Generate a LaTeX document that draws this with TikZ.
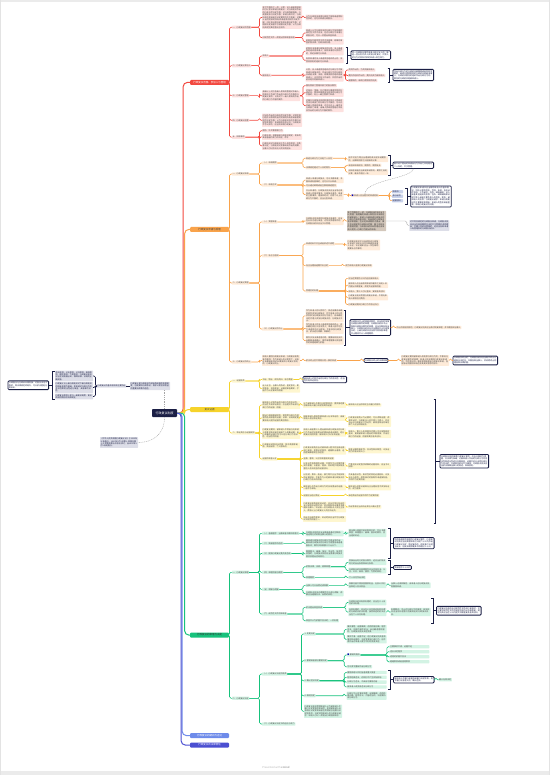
\documentclass[tikz,border=0pt]{standalone}
\usepackage{fontspec}
\newfontfamily\cjk{Noto Sans CJK SC}
\usetikzlibrary{calc}
\XeTeXlinebreaklocale "zh"
\XeTeXlinebreakskip=0pt plus 0.2pt

\definecolor{redM}{HTML}{F2483F}\definecolor{redL}{HTML}{FDE1DF}
\definecolor{oraM}{HTML}{F9A34B}\definecolor{oraL}{HTML}{FEEBD9}
\definecolor{yelM}{HTML}{F6D32B}\definecolor{yelL}{HTML}{FEF6CF}
\definecolor{grnM}{HTML}{16C27C}\definecolor{grnL}{HTML}{D3F3E4}
\definecolor{bluM}{HTML}{6E8BEA}\definecolor{purM}{HTML}{4B4FD1}
\definecolor{navy}{HTML}{1B1F45}\definecolor{grayL}{HTML}{DDDEE8}
\definecolor{tanC}{HTML}{D3C7BB}\definecolor{steelC}{HTML}{C9D2EB}

\newcommand{\tf}{\cjk\fontsize{2pt}{2.45pt}\selectfont}
\newcommand{\mf}{\cjk\fontsize{2.5pt}{3pt}\selectfont}
\newcommand{\cf}{\cjk\fontsize{3pt}{3.6pt}\selectfont}

% parent -> children, elbow just before the children
\newcommand{\tree}[3]{\foreach \ch in {#3}{\draw[#1] (#2.east) -- ($(#2.east -| \ch.west)+(-2.5,0)$) |- (\ch.west);}}
% summary bracket: x, top, bottom, summary node
\newcommand{\summ}[4]{%
  \draw[brk] (#1-1.8,#2) -- (#1,#2) -- (#1,#3) -- (#1-1.8,#3);
  \coordinate (#4-m) at (#1,{(#2+#3)/2});
  \draw[brk] (#4-m) -- (#4.west);}

\tikzset{
  tb/.style={font=\tf, inner sep=0.7pt, outer sep=0pt, anchor=west, align=left, rounded corners=0.5pt, text=black!72},
  rb/.style={tb, fill=redL}, ob/.style={tb, fill=oraL}, yb/.style={tb, fill=yelL}, gb/.style={tb, fill=grnL},
  kb/.style={tb, fill=grayL, text=navy}, tanb/.style={tb, fill=tanC, text=black!80},
  stb/.style={tb, fill=steelC, text=navy, text width=9.6pt},
  sb/.style={tb, fill=white, draw=navy, line width=0.8pt, rounded corners=1pt, text=navy, inner sep=1pt},
  mn/.style={font=\mf, inner sep=1pt, outer sep=0pt, anchor=west, minimum width=39pt, minimum height=5pt, rounded corners=1pt},
  n33/.style={text width=31.6pt}, n38/.style={text width=36.6pt}, n39/.style={text width=37.6pt},
  n40/.style={text width=38.6pt}, n43/.style={text width=41.6pt}, n44/.style={text width=42.6pt}, n48/.style={text width=46.6pt},
  rl/.style={draw=redM, line width=0.6pt, rounded corners=1.5pt},
  ol/.style={draw=oraM, line width=0.6pt, rounded corners=1.5pt},
  yl/.style={draw=yelM, line width=0.6pt, rounded corners=1.5pt},
  gl/.style={draw=grnM, line width=0.6pt, rounded corners=1.5pt},
  nl/.style={draw=navy, line width=0.6pt, rounded corners=1.5pt},
  kl/.style={draw=gray!70, line width=0.4pt, rounded corners=1.5pt},
  brk/.style={draw=navy, line width=0.8pt},
  rel/.style={draw=gray!70, line width=0.4pt, dash pattern=on 1pt off 0.8pt},
  mline/.style={line width=1pt, rounded corners=4pt}
}

\begin{document}
\begin{tikzpicture}[x=1pt,y=-1pt]
\useasboundingbox (0,0) rectangle (550,775);
\fill[gray!16] (0,0) rectangle (550,1.6);
\fill[gray!16] (0,771) rectangle (550,775);
\draw[gray!22, line width=1pt] (0.5,0) -- (0.5,775);
\draw[gray!22, line width=1pt] (549.5,0) -- (549.5,775);

\node[fill=navy, text=white, font=\cf, minimum width=25pt, minimum height=8pt, inner sep=1pt, rounded corners=0.8pt] (cen) at (164.5,413) {行政复议制度};

% ---------- red
\node[mn, fill=redM, text=white] (R) at (190,82.5) {行政复议范围、参加人与管辖};
\node[rb] (r1) at (232,27.3) {一、行政复议的范围};
\node[rb] (r2) at (232,65.7) {二、行政复议参加人};
\node[rb] (r3) at (232,95.7) {三、行政复议管辖};
\node[rb] (r4) at (232,120.3) {四、行政复议前置};
\node[rb] (r5) at (232,137.2) {五、排除事项};
\node[rb,n40] (r11) at (262,17.5) {有下列情形之一的，公民、法人或者其他组织可以依法申请行政复议：对行政机关作出的行政处罚决定不服；对行政强制措施、行政强制执行决定不服；申请行政许可，行政机关拒绝或者在法定期限内不予答复；对确认自然资源的所有权或者使用权的决定不服；对征收征用决定及其补偿决定不服；对赔偿决定或者不予赔偿决定不服；认为行政机关侵犯其经营自主权的。};
\node[rb,n38] (r111) at (305.5,17.5) {认为行政机关滥用行政权力排除或者限制竞争的，也可以申请行政复议。};
\node[rb] (r12) at (262,37.5) {对规范性文件一并提出附带审查申请};
\node[rb,n38] (r121) at (305.5,33) {申请人认为行政机关的行政行为所依据的规范性文件不合法，在对行政行为申请行政复议时，可以一并提出审查申请。};
\node[rb,n38] (r122) at (305.5,41.8) {前款所列规范性文件不含规章，规章的审查依照法律、行政法规办理。};
\node[rb] (r21) at (262,56) {申请人};
\node[rb,n38] (r211) at (305.5,51.2) {依照本法申请行政复议的公民、法人或者其他组织是申请人；有权申请的公民死亡的，其近亲属可以申请。};
\node[rb,n38] (r212) at (305.5,60.3) {有权申请的法人或者其他组织终止的，承受其权利的组织可以申请。};
\node[sb,n39] (s1) at (351,55.15) {同一行政复议案件申请人超过五人的，推选一至五名代表人参加行政复议，代表人的行为对其所代表的申请人发生效力。};
\node[rb] (r22) at (262,75.3) {被申请人};
\node[rb,n38] (r221) at (305.5,75) {公民、法人或者其他组织对行政行为不服申请行政复议的，作出行政行为的行政机关或者法律、法规、规章授权的组织是被申请人；以共同名义作出的，共同作出的机关是共同被申请人。};
\node[rb] (r2211) at (348,70) {共同作出的，为共同被申请人};
\node[rb] (r2212) at (348,75.5) {委托的组织作出的，委托机关为被申请人};
\node[rb] (r2213) at (348,80.5) {被撤销的，继续行使职权的机关};
\node[sb,n40] (s2) at (393,75) {作出行政行为的行政机关被撤销或者职权变更的，继续行使其职权的行政机关是被申请人；行政机关委托的组织作出行政行为的，委托的行政机关是被申请人。};
\node[rb,n38] (r31) at (262,95.8) {县级以上地方各级人民政府管辖对本级人民政府工作部门作出的行政行为不服的行政复议案件，以及对下一级人民政府作出的行政行为不服的案件。};
\node[rb] (r311) at (305.5,85.7) {国务院部门管辖本部门的复议案件};
\node[rb,n38] (r312) at (305.5,92.8) {对海关、金融、外汇等实行垂直领导的行政机关、税务和国家安全机关的行政行为不服的，向上一级主管部门申请。};
\node[rb,n38] (r313) at (305.5,105.5) {对履行行政复议机构职责的地方人民政府司法行政部门的行政行为不服的，可以向本级人民政府申请，也可以向上一级司法行政部门申请；省级人民政府管辖对本机关作出的行政行为不服的案件。};
\node[rb,n40] (r41) at (262,120.3) {对当场作出的行政处罚决定不服；对侵犯其已经依法取得的自然资源的所有权或者使用权的决定不服；认为行政机关存在不履行法定职责情形；申请政府信息公开，行政机关不予公开的，应当先申请行政复议。};
\node[rb] (r51) at (262,130.8) {国防、外交等国家行为};
\node[rb,n40] (r52) at (262,136.9) {行政法规、规章或者行政机关制定、发布的具有普遍约束力的决定、命令};
\node[rb,n40] (r53) at (262,145.8) {行政机关对行政机关工作人员的奖惩、任免等决定；行政机关对民事纠纷作出的调解，当事人可以依法向人民法院起诉。};
\tree{rl}{R}{r1,r2,r3,r4,r5}
\tree{rl}{r1}{r11,r12}
\tree{rl}{r11}{r111}
\tree{rl}{r12}{r121,r122}
\tree{rl}{r2}{r21,r22}
\tree{rl}{r21}{r211,r212}
\tree{rl}{r22}{r221}
\tree{rl}{r221}{r2211,r2212,r2213}
\tree{rl}{r3}{r31}
\tree{rl}{r31}{r311,r312,r313}
\tree{rl}{r4}{r41}
\tree{rl}{r5}{r51,r52,r53}
\summ{347.5}{47}{63.3}{s1}
\summ{389.5}{68}{82}{s2}

% ---------- orange
\node[mn, fill=oraM, text=black!75] (O) at (190,229.5) {行政复议申请与受理};
\node[ob] (o1) at (232,174) {一、行政复议申请};
\node[ob] (o2) at (232,283) {二、行政复议受理};
\node[ob] (o3) at (232,362) {三、行政复议的终止};
\node[ob] (o11) at (262,163) {（一）申请期限};
\node[ob] (o111) at (305.5,158.3) {知道行政行为之日起六十日内};
\node[ob] (o112) at (305.5,167.7) {法律规定超过六十日的除外};
\node[ob,n40] (o1111) at (348,159.2) {因不可抗力等正当理由耽误法定申请期限的，自障碍消除之日起继续计算。};
\node[ob] (o1121) at (348,165.3) {未告知申请权利、期限的，期限延长};
\node[ob,n40] (o1122) at (348,172.2) {自知道或者应当知道申请权利、期限之日起计算，最长不超过一年。};
\node[sb,n40] (s3) at (393,165.25) {因不动产提出的申请自行为作出之日起超过二十年的，不予受理。};
\node[ob] (o12) at (262,185) {（二）申请方式};
\node[ob,n38] (o121) at (305.5,180.2) {申请人申请行政复议，可以书面申请；书面申请有困难的，也可以口头申请。};
\node[ob] (o122) at (305.5,185.8) {可以通过邮寄或者互联网渠道提交};
\node[ob,n38] (o123) at (305.5,194.6) {口头申请的，行政复议机关应当当场记录申请人的基本情况、行政复议请求、申请的主要事实、理由和时间；对两个以上行政行为不服的，应当分别申请。};
\node[ob] (o1231) at (351,195.5) {{\color{blue!70!black}■} 申请人应当提交的申请材料};
\node[stb] (o12311) at (392,191.7) {申请书};
\node[stb] (o12312) at (392,196.2) {身份证明};
\node[stb] (o12313) at (392,200.7) {证据材料};
\node[sb,n40] (s4) at (410.7,196.5) {行政复议申请书应当载明申请人的基本情况，包括公民的姓名、性别、年龄、身份证件号码、工作单位、住所、邮政编码；法人或者其他组织的名称、住所、邮政编码和法定代表人或者主要负责人的姓名、职务；被申请人的名称；行政复议请求、申请行政复议的主要事实和理由；申请人的签名或者盖章；申请行政复议的日期。};
\node[ob] (o21) at (262,222) {（一）受理审查};
\node[ob,n38] (o211) at (305.5,221) {行政复议机关收到行政复议申请后，应当在五日内进行审查，对符合受理条件的，行政复议机关应当予以受理。};
\node[tanb,n39] (t1) at (347,221) {有下列情形之一的，行政复议机关应当予以受理：有明确的申请人和符合本法规定的被申请人；申请人与被申请行政复议的行政行为有利害关系；有具体的行政复议请求和理由；在法定申请期限内提出；属于本法规定的行政复议范围；属于本机关的管辖范围；行政复议机关未受理过该申请人就同一行政行为提出的申请。};
\node[kb,n40] (k7) at (409.3,225.5) {对不符合规定的行政复议申请，行政复议机关应当在审查期限内决定不予受理并说明理由；不属于本机关管辖的，还应当告知申请人有管辖权的行政复议机关。};
\node[ob] (o22) at (262,255.7) {（二）补正与告知};
\node[ob] (o221) at (305.5,244) {申请材料不齐全或者表述不清楚};
\node[ob,n33] (o2211) at (347,245) {行政复议机关可以自收到该行政复议申请之日起五日内书面通知申请人补正，补正通知应当一次性载明需要补正的事项。};
\node[ob] (o222) at (305.5,265.7) {无正当理由逾期不补正的};
\node[ob] (o2221) at (345,265.7) {视为申请人放弃行政复议申请};
\node[ob] (o223) at (305.5,291) {受理后的处理};
\node[ob] (o2231) at (348,278.3) {应当在受理后七日内送达被申请人};
\node[ob,n40] (o2232) at (348,285.2) {被申请人应当自收到申请书副本之日起十日内提出书面答复，并提交证据和依据。};
\node[ob] (o2233) at (348,291.5) {申请人、第三人可以查阅、复制有关材料};
\node[ob,n40] (o2234) at (348,297.4) {行政复议机关受理行政复议申请，不得向申请人收取任何费用。};
\node[ob] (o2235) at (348,304.5) {行政复议期间行政行为不停止执行};
\node[ob] (o23) at (262,329) {（三）行政复议的中止};
\node[ob,n38] (o231) at (305.5,315.8) {作为申请人的公民死亡，其近亲属尚未确定是否参加行政复议；作为申请人的公民丧失参加行政复议的行为能力，尚未确定法定代理人参加行政复议的，行政复议中止。};
\node[ob,n38] (o232) at (305.5,328.5) {作为申请人的法人或者其他组织终止，尚未确定权利义务承受人；申请人因不可抗力或者其他正当理由，不能参加行政复议；依法进行调解、和解的。};
\node[ob,n38] (o233) at (305.5,340.5) {案件涉及法律适用问题，需要有权机关作出解释或者确认；案件审理需要以其他案件的审理结果为依据。};
\node[sb,n40] (s5) at (350,327.5) {行政复议中止的原因消除后，应当及时恢复行政复议案件的审理；行政复议机关中止、恢复行政复议案件的审理，应当书面告知当事人。行政复议机关无正当理由中止行政复议的，上级行政机关应当责令其恢复审理，中止期间不计入审理期限。};
\node[ob] (o2331) at (396,327.5) {中止的原因消除后，行政复议机关应当及时恢复审理，并书面告知当事人};
\node[ob,n38] (o31) at (262,360.5) {申请人撤回行政复议申请，行政复议机构准予撤回；作为申请人的公民死亡，没有近亲属或者其近亲属放弃行政复议权利的，行政复议终止。};
\node[ob] (o311) at (305.5,360.5) {依法终止后不得再以同一事实申请};
\node[sb] (s6) at (364,360.5) {行政复议终止的法律效果};
\node[ob,n48] (o3111) at (401,360.5) {行政复议期间被申请人改变原行政行为的，不影响行政复议案件的审理；申请人依法撤回行政复议申请的，不得再以同一事实和理由提出行政复议申请，但能够证明撤回申请违背其真实意愿的除外。};
\node[sb,n44] (s7) at (453,360.5) {行政复议终止的，行政复议机关应当制作终止行政复议决定书，书面告知当事人，并说明终止的理由和法律依据。};
\tree{ol}{O}{o1,o2,o3}
\tree{ol}{o1}{o11,o12}
\tree{ol}{o11}{o111,o112}
\tree{ol}{o111}{o1111}
\tree{ol}{o112}{o1121,o1122}
\tree{ol}{o12}{o121,o122,o123}
\tree{ol}{o123}{o1231}
\tree{ol}{o1231}{o12311,o12312,o12313}
\tree{ol}{o2}{o21,o22,o23}
\tree{ol}{o21}{o211}
\tree{ol}{o211}{t1}
\tree{kl}{t1}{k7}
\tree{ol}{o22}{o221,o222,o223}
\tree{ol}{o221}{o2211}
\tree{ol}{o222}{o2221}
\tree{ol}{o223}{o2231,o2232,o2233,o2234,o2235}
\tree{ol}{o23}{o231,o232,o233}
\tree{ol}{s5}{o2331}
\tree{ol}{o3}{o31}
\tree{ol}{o31}{o311}
\tree{ol}{o311}{s6}
\tree{ol}{s6}{o3111}
\tree{ol}{o3111}{s7}
\summ{390}{155.5}{175}{s3}
\summ{407}{188.5}{204.5}{s4}
\summ{345.5}{310}{345}{s5}
\draw[rel] (o1231.north) .. controls +(0,-14) and +(0,10) .. (s3.south);

% ---------- yellow
\node[mn, fill=yelM, text=black!75] (Y) at (190,409.5) {复议证据};
\node[yb] (y1) at (232,381) {一、证据种类};
\node[yb] (y2) at (232,433) {二、举证责任与证据规则};
\node[yb] (y11) at (262,379.5) {书证、物证、视听资料、电子数据};
\node[sb,n43] (sy1) at (303,379.5) {被申请人对其作出的行政行为的合法性、适当性负有举证责任。};
\node[yb,n38] (y12) at (262,388.6) {证人证言、当事人的陈述、鉴定意见、勘验笔录、现场笔录；证据经审查属实，才能作为认定事实的根据。};
\node[yb,n38] (y21) at (262,405) {被申请人对其作出的行政行为的合法性、适当性负有举证责任，应当提交作出该行政行为的证据、依据。};
\node[yb,n43] (y211) at (303,405) {认为被申请人不履行法定职责的，提供曾经要求被申请人履行法定职责的证据。};
\node[yb] (y2111) at (348,405) {被申请人应当依职权主动履行的除外};
\node[yb,n38] (y22) at (262,418) {提出行政赔偿请求的，提供受行政行为侵害而造成损害的证据；法律、法规规定需要申请人提供证据的其他情形。};
\node[yb,n43] (y221) at (303,418) {因被申请人原因导致申请人无法举证的，由被申请人承担举证责任。};
\node[yb,n43] (y2211) at (348,421.5) {行政复议机构认为必要时，可以调取证据；调查取证时，行政复议人员不得少于两人，并应当出示行政复议工作证件；被调查取证的单位和个人应当积极配合。};
\node[yb,n38] (y23) at (262,433.5) {行政复议期间，被申请人不得自行向申请人和其他有关单位或者个人收集证据；自行收集的证据不作为认定行政行为合法性、适当性的依据。};
\node[yb,n43] (y231) at (303,432.5) {申请人或者第三人提出被申请行政复议的行政行为作出时没有提出的理由或者证据的，经行政复议机构同意，被申请人可以补充证据。};
\node[yb,n43] (y2311) at (348,434) {申请人、第三人及其委托代理人可以按照规定查阅、复制被申请人提出的书面答复、作出行政行为的证据、依据和其他有关材料。};
\node[yb,n38] (y24) at (262,445.5) {行政复议机构应当同意，除涉及国家秘密、商业秘密、个人隐私的。};
\node[yb] (y25) at (262,459) {证据的审查认定};
\node[yb,n43] (y251) at (303,450.5) {行政复议机构应当对被申请人提交的全部证据进行审查，依照法定程序，遵循职业道德，运用逻辑推理和生活经验。};
\node[yb] (y252) at (303,458.5) {全面、客观、公正地审查核实证据};
\node[yb,n43] (y253) at (303,466) {以非法手段取得的证据，不得作为认定案件事实的根据；以偷拍、偷录、窃听等手段获取侵害他人合法权益的证据材料。};
\node[yb,n43] (y254) at (303,477.5) {以利诱、欺诈、胁迫、暴力等不正当手段获取的证据材料，不能作为认定被申请行政复议的行政行为合法的依据。};
\node[yb,n43] (y255) at (303,487.5) {被申请人在作出行政行为时没有提出的证据，一般不予采纳。};
\node[yb] (y256) at (303,495.5) {证据应当经过质证};
\node[yb,n43] (y257) at (303,507) {行政复议机构组织听证的，应当在举行听证的五日前将听证的时间、地点和拟听证事项书面通知当事人；听证由一名行政复议人员任主持人，两名以上行政复议人员任听证员。};
\node[yb,n43] (y258) at (303,519) {听证应当制作笔录，听证笔录应当作为行政复议决定的依据之一。};
\node[yb,n43] (y2511) at (348,450.5) {审查证据的真实性、合法性和关联性，以及证明力的有无和大小。};
\node[yb,n43] (y2531) at (348,466) {严重违反法定程序收集的证据材料，应当予以排除。};
\node[yb,n43] (y2541) at (348,477.5) {不具备合法性、真实性的其他证据材料，以及无法与原件、原物核对的复制件或者复制品，不得作为定案依据。};
\node[yb,n43] (y2551) at (348,487.5) {被申请人经依法通知无正当理由拒不参加听证的，视为放弃。};
\node[yb] (y2561) at (348,495.5) {未经质证的证据不得作为定案依据};
\node[yb] (y2571) at (348,507) {听证笔录应当由听证参加人确认签字};
\node[sb,n48] (s8) at (440,461.25) {行政复议机构审理行政复议案件，应当以事实为根据，以法律为准绳；对被申请人作出的行政行为的合法性和适当性进行全面审查，证据不足以证明行政行为合法的，行政复议机关不予维持；行政复议机关应当依法保障当事人的陈述、申辩权利。};
\tree{yl}{Y}{y1,y2}
\tree{yl}{y1}{y11,y12}
\tree{yl}{y11}{sy1}
\tree{yl}{y2}{y21,y22,y23,y24,y25}
\tree{yl}{y21}{y211}
\tree{yl}{y211}{y2111}
\tree{yl}{y22}{y221}
\tree{yl}{y221}{y2211}
\tree{yl}{y23}{y231}
\tree{yl}{y231}{y2311}
\tree{yl}{y25}{y251,y252,y253,y254,y255,y256,y257,y258}
\tree{yl}{y251}{y2511}
\tree{yl}{y253}{y2531}
\tree{yl}{y254}{y2541}
\tree{yl}{y255}{y2551}
\tree{yl}{y256}{y2561}
\tree{yl}{y257}{y2571}
\summ{435.5}{399}{523.5}{s8}

% ---------- green
\node[mn, fill=grnM, text=black!80] (G) at (190,635) {行政复议的审理与决定};
\node[gb] (g1) at (232,572.3) {一、行政复议审理};
\node[gb] (g2) at (232,698.3) {二、行政复议决定};
\node[gb] (g11) at (262,533.3) {（一）普通程序：当面或者书面听取意见};
\node[gb,n38] (g111) at (305.5,533.5) {行政复议机构应当当面或者通过互联网、电话等方式听取当事人的意见。};
\node[gb,n38] (g1111) at (348.3,533) {因当事人原因不能听取意见的，可以书面审查；审理重大、疑难、复杂的案件，应当组织听证。};
\node[gb] (g12) at (262,543.3) {（二）简易程序的适用};
\node[gb,n38] (g121) at (305.5,543.3) {被申请行政复议的行政行为是当场作出；被申请行政复议的行政行为是警告或者通报批评；案件涉及款额三千元以下。};
\node[gb] (g13) at (262,553.5) {（三）提请行政复议委员会咨询};
\node[gb,n38] (g131) at (305.5,553.8) {案情重大、疑难、复杂；专业性、技术性较强的，行政复议机构应当提请行政复议委员会提出咨询意见。};
\node[gb] (g14) at (262,572.3) {（四）审理依据与期限};
\node[gb] (g141) at (305.5,566.7) {依照法律、法规、规章审理};
\node[gb,n38] (g1411) at (348.3,562.3) {民族自治地方的复议案件，还应当依照该地方的自治条例和单行条例。};
\node[gb,n38] (g1412) at (348.3,570.5) {行政复议机关审理案件应当坚持合法、公正、公开、高效、便民、为民的原则。};
\node[gb] (g142) at (305.5,577.6) {审理期限};
\node[gb] (g1421) at (348.3,577.6) {六十日内作出决定};
\node[sb,n40] (s9) at (393.5,543.15) {适用普通程序审理的行政复议案件，行政复议机关应当自受理申请之日起六十日内作出行政复议决定；情况复杂的，经批准可以适当延长，但延长期限最多不得超过三十日。};
\node[sb] (s10) at (393.5,567.5) {简易程序三十日内};
\node[gb] (g15) at (262,589.3) {（五）和解与调解};
\node[gb] (g151) at (305.5,585.3) {当事人可以自愿达成和解};
\node[gb,n38] (g1511) at (348.3,585.3) {和解内容不得损害国家利益、社会公共利益和他人合法权益。};
\node[gb,n40] (g15111) at (390.5,585.3) {当事人达成和解后，由申请人向行政复议机构撤回申请。};
\node[gb,n38] (g152) at (305.5,593.6) {行政复议机关办理案件可以进行调解，调解应当遵循合法、自愿的原则。};
\node[gb] (g16) at (262,614) {（六）规范性文件附带审查};
\node[gb] (g161) at (305.5,607.3) {依法提出审查申请};
\node[gb,n38] (g1611) at (348.3,602.5) {行政复议机关有权处理的，应当在三十日内依法处理。};
\node[gb,n38] (g1612) at (348.3,612) {无权处理的，应当在七日内转送有权处理的行政机关依法处理，接受转送的机关应当在六十日内处理。};
\node[gb,n40] (g16121) at (390.5,612) {处理期间，中止对行政行为的审查；有关机关应当将处理意见回复转送的行政复议机关。};
\node[gb] (g162) at (305.5,620.7) {审查中认为依据不合法的，一并处理};
\node[sb,n44] (s11) at (436.5,610.75) {行政复议机关依法对规范性文件进行审查时，可以要求规范性文件的制定机关作出书面答复，制定机关应当在十日内提交书面答复及有关材料。};
\node[gb] (g21) at (262,674) {（一）行政复议决定的种类};
\node[gb] (g211) at (304,634) {1. 变更决定};
\node[gb,n40] (g2111) at (346.7,629.3) {事实清楚，证据确凿，适用依据正确，程序合法，但是内容不适当；未正确适用依据的，行政复议机关决定变更。};
\node[gb,n40] (g2112) at (346.7,639.3) {事实不清、证据不足，经行政复议机关查清事实和证据的，决定变更该行政行为，但不得作出对申请人更为不利的变更决定。};
\node[gb] (g212) at (304,660.7) {2. 撤销或者部分撤销决定};
\node[gb] (g2121) at (346.7,655) {{\color{blue!70!black}■} 撤销的情形};
\node[gb,n40] (g21211) at (389.3,646.7) {主要事实不清、证据不足};
\node[gb,n40] (g21212) at (389.3,651.7) {违反法定程序};
\node[gb,n40] (g21213) at (389.3,656.7) {适用的依据不合法};
\node[gb,n40] (g21214) at (389.3,661.7) {超越职权或者滥用职权};
\node[gb] (g2122) at (346.7,666.7) {可以责令重新作出行政行为};
\node[gb] (g213) at (304,680.7) {3. 确认违法决定};
\node[gb,n40] (g2131) at (346.7,672.5) {撤销会给公共利益造成重大损害};
\node[gb,n40] (g2132) at (346.7,677.3) {程序轻微违法，对权利不产生实际影响};
\node[gb,n40] (g2133) at (346.7,682.1) {行政行为违法，不具有可撤销内容};
\node[gb,n40] (g2134) at (346.7,686.9) {被申请人改变原违法行政行为};
\node[sb,n40] (s12) at (393.5,679.75) {被申请人不履行或者拖延履行法定职责，责令履行没有意义的，确认违法。};
\node[gb] (g2135) at (438.5,679.75) {确认无效决定};
\node[gb] (g214) at (304,695.7) {4. 维持决定};
\node[gb,n40] (g2141) at (346.7,695.7) {行政行为认定事实清楚，证据确凿，适用依据正确，程序合法，内容适当的，决定维持该行政行为。};
\node[gb,n38] (g215) at (304,711.3) {行政复议机关受理申请人认为被申请人不履行法定职责的申请后，发现被申请人没有相应法定职责或者在受理前已经履行法定职责的，决定驳回申请人的行政复议请求；申请人可以一并提出行政赔偿请求。};
\node[gb] (g22) at (262,724) {（二）行政复议决定书的送达与效力};
\tree{gl}{G}{g1,g2}
\tree{gl}{g1}{g11,g12,g13,g14,g15,g16}
\tree{gl}{g11}{g111}
\tree{gl}{g111}{g1111}
\tree{gl}{g12}{g121}
\tree{gl}{g13}{g131}
\tree{gl}{g14}{g141,g142}
\tree{gl}{g141}{g1411,g1412}
\tree{gl}{g142}{g1421}
\tree{gl}{g15}{g151,g152}
\tree{gl}{g151}{g1511}
\tree{gl}{g1511}{g15111}
\tree{gl}{g16}{g161,g162}
\tree{gl}{g161}{g1611,g1612}
\tree{gl}{g1612}{g16121}
\tree{gl}{g2}{g21,g22}
\tree{gl}{g21}{g211,g212,g213,g214,g215}
\tree{gl}{g211}{g2111,g2112}
\tree{gl}{g212}{g2121,g2122}
\tree{gl}{g2121}{g21211,g21212,g21213,g21214}
\tree{gl}{g213}{g2131,g2132,g2133,g2134}
\tree{gl}{s12}{g2135}
\tree{gl}{g214}{g2141}
\summ{390}{528.3}{558}{s9}
\summ{390}{560.5}{574.5}{s10}
\summ{433}{598.5}{623}{s11}
\summ{390}{670.5}{689}{s12}

% ---------- blue, purple
\node[mn, fill=bluM, text=white] (B) at (190,735.5) {行政复议的期间与送达};
\node[mn, fill=purM, text=white] (P) at (190,745) {行政复议的法律责任};

\draw[mline, draw=oraM] (cen.east) -- ++(7.5,0) |- (O.west);
\draw[mline, draw=redM] (cen.east) -- ++(6,0) |- (R.west);
\draw[mline, draw=yelM] (cen.east) -- ++(7,0) |- (Y.west);
\draw[mline, draw=grnM] (cen.east) -- ++(7.5,0) |- (G.west);
\draw[mline, draw=bluM] (cen.east) -- ++(5,0) |- (B.west);
\draw[mline, draw=purM] (cen.east) -- ++(4,0) |- (P.west);

% ---------- floating topics on the left
\node[kb,n40] (f1) at (130,386) {行政复议是行政机关内部自我纠错的监督制度，也是解决行政争议、保护公民合法权益的重要法律救济途径。};
\node[kb] (f2) at (97,386) {行政复议的基本原则和主要特征};
\node[kb,n38] (k1) at (55,376) {合法原则、公正原则、公开原则、高效原则、便民原则、为民原则；行政复议机关应当坚持有错必纠，保障法律、法规的正确实施。};
\node[kb,n38] (k2) at (55,387.5) {行政复议以上级行政机关对下级行政机关的层级监督为基础，依申请对行政行为的合法性和适当性进行审查，具有准司法性。};
\node[kb,n38] (k3) at (55,396.5) {行政复议原则上实行一级复议制度，复议终局的情形依法律规定。};
\node[sb,n40] (m1) at (8,385.25) {行政复议与行政诉讼相衔接，对复议决定不服的，除法律规定终局外，可以依法提起行政诉讼。};
\node[kb,n38] (f3) at (100,442.5) {《中华人民共和国行政复议法》于1999年公布施行，2023年9月1日第十四届全国人大常委会第五次会议修订，自2024年1月1日起施行。};
\draw[nl] (f1.west) -- (f2.east);
\foreach \ch in {k1,k2,k3}
  \draw[nl] (f2.west) -- ($(f2.west -| \ch.east)+(2.5,0)$) |- (\ch.east);
\draw[brk] (54.5,371) -- (52.7,371) -- (52.7,399.5) -- (54.5,399.5);
\coordinate (m1-m) at (52.7,385.25);
\draw[brk] (m1-m) -- (m1.east);
\draw[rel] (cen.north) -- (cen.north |- f1.south);
\draw[rel] (cen.south) .. controls +(0,18) and +(14,0) .. (f3.east);

\node[font=\cjk\fontsize{2.6pt}{3pt}\selectfont, text=gray!60] (foot) at (276,767) {Presented with \textbf{xmind}};
\end{tikzpicture}
\end{document}
